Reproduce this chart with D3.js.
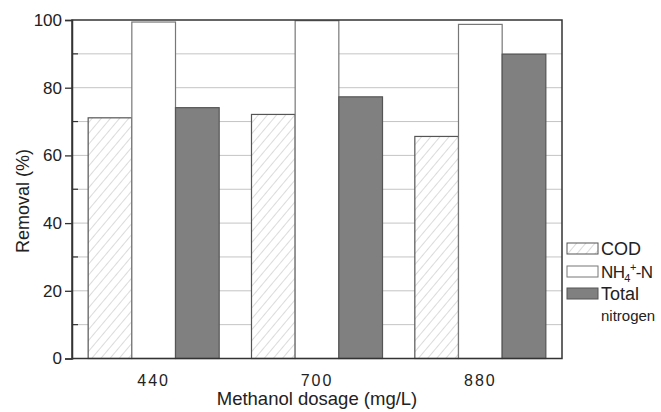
<!DOCTYPE html>
<html>
<head>
<meta charset="utf-8">
<script src="https://cdn.jsdelivr.net/npm/d3@7"></script>
<style>
  body { margin: 0; background: #fff; }
  text { font-family: "Liberation Sans", Arial, sans-serif; fill: #222; }
</style>
</head>
<body>
<svg class="chart"></svg>
<script>
var dosages = ["440", "700", "880"];
var seriesNames = ["COD", "NH4", "TN"];
var codValues = [71.1, 72.1, 65.6];
var nh4Values = [99.4, 99.8, 98.7];
var tnValues = [74.1, 77.3, 89.9];
var yTicks = [0, 20, 40, 60, 80, 100];

var screen = { width: 661, height: 412 };
var margins = { left: 72, top: 20, right: 99, bottom: 53 };

var svg = d3.select(".chart")
            .attr("width", screen.width)
            .attr("height", screen.height);

var defs = svg.append("defs");
var pat = defs.append("pattern")
              .attr("id", "hatch")
              .attr("patternUnits", "userSpaceOnUse")
              .attr("width", 7)
              .attr("height", 7)
              .attr("patternTransform", "rotate(40)");
pat.append("rect").attr("width", 7).attr("height", 7).attr("fill", "#fff");
pat.append("line")
   .attr("x1", 0).attr("y1", 0).attr("x2", 0).attr("y2", 7)
   .attr("stroke", "#b8b8b8").attr("stroke-width", 1);

var x0 = d3.scaleBand()
           .domain(dosages)
           .range([margins.left, screen.width - margins.right]);

var x1 = d3.scaleBand()
           .domain(seriesNames)
           .range([0, x0.bandwidth()])
           .paddingInner(0)
           .paddingOuter(0.37);

var yScale = d3.scaleLinear()
               .domain([0, 100])
               .range([358.5, margins.top]);

var fills = { COD: "url(#hatch)", NH4: "#fff", TN: "#808080" };
var strokes = { COD: "#555", NH4: "#777", TN: "#555" };

//grid every 10
svg.append("g")
   .selectAll("line")
   .data(d3.range(10, 100, 10))
   .enter()
   .append("line")
   .attr("x1", margins.left)
   .attr("x2", screen.width - margins.right)
   .attr("y1", function(d) {return yScale(d);})
   .attr("y2", function(d) {return yScale(d);})
   .attr("stroke", "#c4c4c4")
   .attr("stroke-width", 1);

//bars
var rows = dosages.map(function(d, i) {
  return { dosage: d, values: [
    { key: "COD", value: codValues[i] },
    { key: "NH4", value: nh4Values[i] },
    { key: "TN", value: tnValues[i] }
  ]};
});

svg.append("g")
   .selectAll("g")
   .data(rows)
   .enter()
   .append("g")
   .attr("transform", function(d) {return "translate(" + x0(d.dosage) + ",0)";})
   .selectAll("rect")
   .data(function(d) {return d.values;})
   .enter()
   .append("rect")
   .attr("x", function(d) {return x1(d.key);})
   .attr("y", function(d) {return yScale(d.value);})
   .attr("width", x1.bandwidth())
   .attr("height", function(d) {return yScale(0) - yScale(d.value);})
   .attr("fill", function(d) {return fills[d.key];})
   .attr("stroke", function(d) {return strokes[d.key];})
   .attr("stroke-width", 1.2);

//frame
svg.append("rect")
   .attr("x", margins.left)
   .attr("y", margins.top)
   .attr("width", screen.width - margins.right - margins.left)
   .attr("height", yScale(0) - margins.top)
   .attr("fill", "none")
   .attr("stroke", "#333")
   .attr("stroke-width", 1.5);

//y-axis
var yAxis = d3.axisLeft(yScale).tickValues(yTicks).tickSize(7).tickPadding(3);
var yG = svg.append("g")
            .attr("transform", "translate(" + margins.left + ",0)")
            .call(yAxis);
yG.select(".domain").attr("stroke", "#333").attr("stroke-width", 1.5);
yG.selectAll(".tick line").attr("stroke", "#333").attr("stroke-width", 1.3);
yG.selectAll(".tick text")
  .style("font-family", "'Liberation Sans', Arial, sans-serif")
  .style("font-size", "17px")
  .attr("fill", "#222");

//minor inward ticks
svg.append("g")
   .selectAll("line")
   .data(d3.range(10, 100, 20))
   .enter()
   .append("line")
   .attr("x1", margins.left)
   .attr("x2", margins.left + 6)
   .attr("y1", function(d) {return yScale(d);})
   .attr("y2", function(d) {return yScale(d);})
   .attr("stroke", "#333")
   .attr("stroke-width", 1.2);

//x-axis
var xAxis = d3.axisBottom(x0).tickSize(0).tickPadding(16);
var xG = svg.append("g")
            .attr("transform", "translate(0," + yScale(0) + ")")
            .call(xAxis);
xG.select(".domain").remove();
xG.selectAll(".tick text")
  .style("font-family", "'Liberation Sans', Arial, sans-serif")
  .style("font-size", "16px")
  .style("letter-spacing", "2px")
  .attr("fill", "#222");

svg.append("text")
   .attr("x", x0("700") + x0.bandwidth() / 2)
   .attr("y", 405)
   .attr("text-anchor", "middle")
   .style("font-size", "18.5px")
   .text("Methanol dosage (mg/L)");

svg.append("text")
   .attr("transform", "translate(29," + 201 + ") rotate(-90)")
   .attr("text-anchor", "middle")
   .style("font-size", "18px")
   .text("Removal (%)");

//legend
var legend = svg.append("g").attr("transform", "translate(567,243)");
var legendRows = [
  { key: "COD", y: 0 },
  { key: "NH4", y: 23 },
  { key: "TN", y: 45 }
];
legend.selectAll("rect")
      .data(legendRows)
      .enter()
      .append("rect")
      .attr("x", 0)
      .attr("y", function(d) {return d.y;})
      .attr("width", 31)
      .attr("height", 11)
      .attr("fill", function(d) {return fills[d.key];})
      .attr("stroke", function(d) {return strokes[d.key];})
      .attr("stroke-width", 1);

legend.append("text").attr("x", 34).attr("y", 12).style("font-size", "18px").text("COD");
var nh = legend.append("text").attr("x", 34).attr("y", 35).style("font-size", "17px").style("letter-spacing", "-0.6px");
nh.append("tspan").text("NH");
nh.append("tspan").attr("dy", 4).style("font-size", "11px").text("4");
nh.append("tspan").attr("dy", -11).style("font-size", "11px").text("+");
nh.append("tspan").attr("dy", 7).text("-N");
legend.append("text").attr("x", 34).attr("y", 57).style("font-size", "18px").text("Total");
legend.append("text").attr("x", 34).attr("y", 78).style("font-size", "15px").text("nitrogen");
</script>
</body>
</html>
